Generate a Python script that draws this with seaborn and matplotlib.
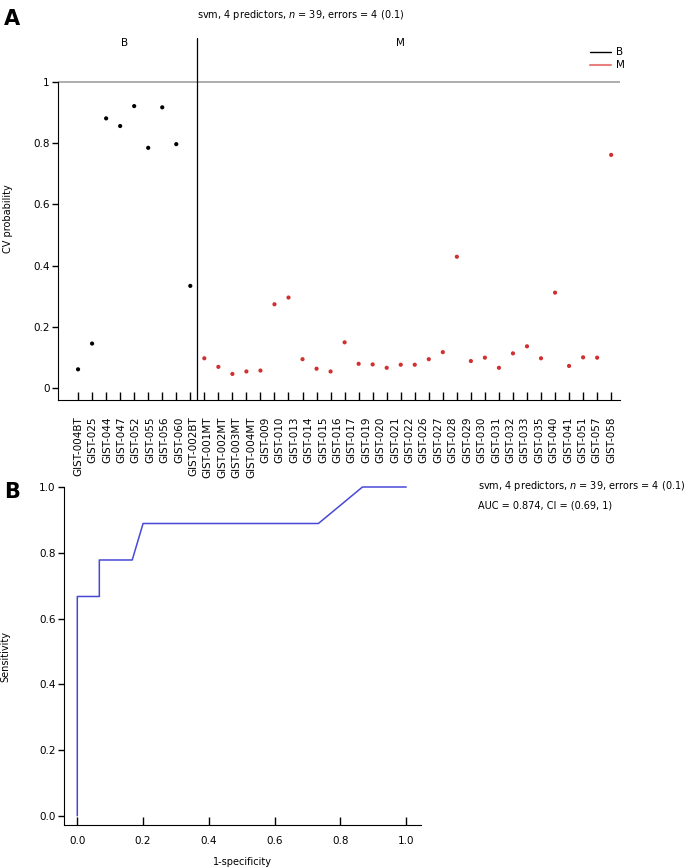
import numpy as np
import pandas as pd
import matplotlib
matplotlib.use("Agg")
import matplotlib.pyplot as plt
from matplotlib.lines import Line2D
import seaborn as sns

# sample ids as printed under panel A (38 names are printed for 39 samples)
sample_ids = ["GIST-004BT", "GIST-025", "GIST-044", "GIST-047", "GIST-052", "GIST-055",
              "GIST-056", "GIST-060", "GIST-002BT", "GIST-001MT", "GIST-002MT", "GIST-003MT",
              "GIST-004MT", "GIST-009", "GIST-010", "GIST-013", "GIST-014", "GIST-015",
              "GIST-016", "GIST-017", "GIST-019", "GIST-020", "GIST-021", "GIST-022",
              "GIST-026", "GIST-027", "GIST-028", "GIST-029", "GIST-030", "GIST-031",
              "GIST-032", "GIST-033", "GIST-035", "GIST-040", "GIST-041", "GIST-051",
              "GIST-057", "GIST-058"]

# CV probability per sample, in plotting order
prob_b = [0.062, 0.146, 0.880, 0.855, 0.920, 0.784, 0.916, 0.796, 0.334]
prob_m = [0.098, 0.070, 0.047, 0.055, 0.058, 0.274, 0.296, 0.095, 0.064, 0.055,
          0.150, 0.080, 0.078, 0.067, 0.077, 0.077, 0.095, 0.118, 0.429, 0.089,
          0.100, 0.067, 0.114, 0.137, 0.098, 0.312, 0.073, 0.101, 0.100, 0.761]

# ROC curve
fpr = [0.0, 0.0, 0.067, 0.067, 0.167, 0.2, 0.733, 0.867, 1.0]
tpr = [0.0, 0.667, 0.667, 0.778, 0.778, 0.889, 0.889, 1.0, 1.0]

title_txt = "svm, 4 predictors, $n$ = 39, errors = 4 (0.1)"
auc_txt = "AUC = 0.874, CI = (0.69, 1)"

sns.set_style("ticks")
plt.rcParams['font.family'] = ['DejaVu Sans']
plt.rcParams['mathtext.fontset'] = 'dejavusans'
plt.rcParams['text.color'] = 'black'
plt.rcParams['axes.labelcolor'] = 'black'
plt.rcParams['xtick.color'] = 'black'
plt.rcParams['ytick.color'] = 'black'
plt.rcParams['axes.edgecolor'] = 'black'

df = pd.DataFrame({
    'prob': prob_b + prob_m,
    'group': ['B'] * len(prob_b) + ['M'] * len(prob_m),
})
df['pos'] = np.arange(len(df))
n = len(df)

W, H = 686, 868
fig = plt.figure(figsize=(W / 100, H / 100), dpi=100)

# ---- panel A ----
ax = fig.add_axes([58 / W, 1 - 400 / H, 562 / W, 362 / H])
sns.scatterplot(data=df, x='pos', y='prob', hue='group',
                palette={'B': 'black', 'M': '#d03030'}, s=9, linewidth=0,
                legend=False, ax=ax)
ax.axhline(1, color='#a0a0a0', lw=1.2, zorder=0)
ax.axvline(len(prob_b) - 0.5, color='black', lw=0.9)
ax.set_xlim(-1.43, 38.63)
ax.set_ylim(-0.038, 1.142)
ax.set_yticks([0, 0.2, 0.4, 0.6, 0.8, 1])
ax.set_yticklabels(["0", "0.2", "0.4", "0.6", "0.8", "1"])
# tick marks at every sample, names spread evenly over the same span
ax.xaxis.remove_overlapping_locs = False
ax.set_xticks(np.arange(n))
ax.set_xticklabels([])
ax.set_xticks(np.linspace(0, n - 1, len(sample_ids)), minor=True)
ax.set_xticklabels(sample_ids, minor=True, rotation=90, fontsize=7.5)
ax.tick_params(axis='x', which='major', direction='in', length=6, width=1)
ax.tick_params(axis='x', which='minor', length=0, pad=12)
ax.tick_params(axis='y', direction='out', length=4, width=1, pad=2, labelsize=7.5)
for s in ['top', 'right']:
    ax.spines[s].set_visible(False)
ax.spines['left'].set_bounds(-0.038, 1)
ax.set_xlabel("")
ax.set_ylabel("CV probability", fontsize=7)
ax.yaxis.set_label_coords(-0.08, 0.5)
ax.text(3.3, 1.125, "B", fontsize=7.5, ha='center', va='center')
ax.text(23.0, 1.125, "M", fontsize=7.5, ha='center', va='center')
handles = [Line2D([], [], color='black', lw=1), Line2D([], [], color='#e88080', lw=1.5)]
ax.legend(handles, ['B', 'M'], loc='upper left', bbox_to_anchor=(586 / W, 1 - 43 / H),
          bbox_transform=fig.transFigure, frameon=False, fontsize=7.5,
          handlelength=2.0, handletextpad=0.5, labelspacing=0.3, borderaxespad=0)

fig.text(301 / W, 1 - 15 / H, title_txt, fontsize=7, ha='center', va='center')
fig.text(12 / W, 1 - 19 / H, "A", fontsize=15, fontweight='bold', ha='center', va='center')

# ---- panel B ----
ax2 = fig.add_axes([64 / W, 1 - 825.3 / H, 356.7 / W, 338.3 / H])
roc = pd.DataFrame({'fpr': fpr, 'tpr': tpr})
sns.lineplot(data=roc, x='fpr', y='tpr', sort=False, estimator=None,
             color='#4848d8', lw=1.1, ax=ax2)
for ln in ax2.lines:
    ln.set_clip_on(False)
ax2.set_xlim(-0.0404, 1.044)
ax2.set_ylim(-0.029, 1.0)
ax2.set_xticks([0, 0.2, 0.4, 0.6, 0.8, 1.0])
ax2.set_xticklabels(["0.0", "0.2", "0.4", "0.6", "0.8", "1.0"])
ax2.set_yticks([0, 0.2, 0.4, 0.6, 0.8, 1.0])
ax2.set_yticklabels(["0.0", "0.2", "0.4", "0.6", "0.8", "1.0"])
ax2.tick_params(axis='x', direction='in', length=6, width=1, pad=8, labelsize=7.5)
ax2.tick_params(axis='y', direction='out', length=4, width=1, pad=2, labelsize=7.5)
for s in ['top', 'right']:
    ax2.spines[s].set_visible(False)
ax2.set_xlabel("1-specificity", fontsize=7)
ax2.set_ylabel("Sensitivity", fontsize=7)
ax2.xaxis.set_label_coords(0.5, -0.095)
ax2.yaxis.set_label_coords(-0.15, 0.5)

fig.text(478 / W, 1 - 486 / H, title_txt, fontsize=7, ha='left', va='center')
fig.text(478 / W, 1 - 506 / H, auc_txt, fontsize=7, ha='left', va='center')
fig.text(12 / W, 1 - 492 / H, "B", fontsize=15, fontweight='bold', ha='center', va='center')

fig.savefig("out.png", dpi=100)
